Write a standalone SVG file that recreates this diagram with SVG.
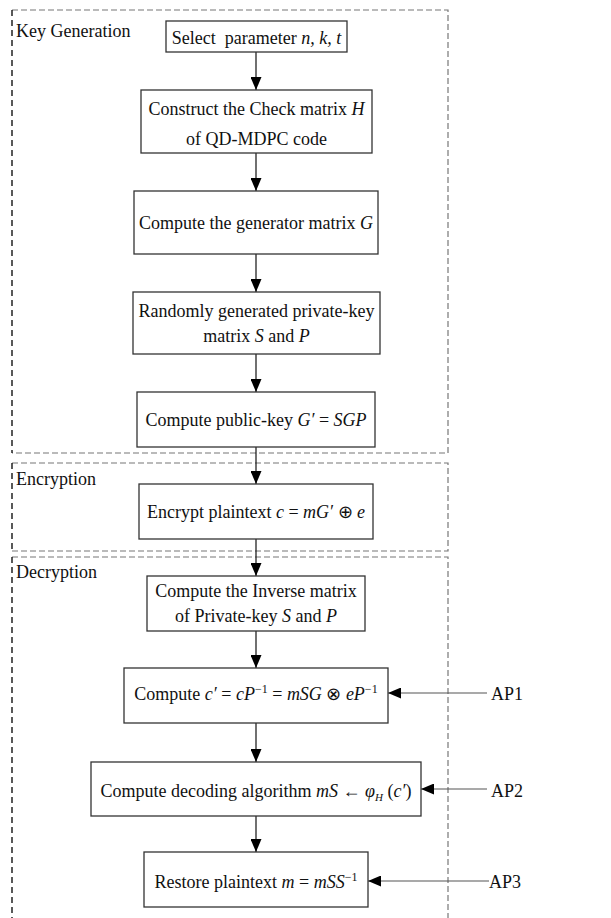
<svg xmlns="http://www.w3.org/2000/svg" width="611" height="918" viewBox="0 0 611 918">
<style>
text{font-family:"Liberation Serif","Times New Roman",serif;font-size:18px;fill:#111}
.c{text-anchor:middle}
.i{font-style:italic}
.box{fill:#fff;stroke:#333;stroke-width:1.3}
.conn{stroke:#111;stroke-width:1.2;fill:none}
.ap{stroke:#555;stroke-width:1.2;fill:none}
.dl{stroke:#000;stroke-width:1.3;stroke-dasharray:6 4;fill:none}
.dg{stroke:#777;stroke-width:1.2;stroke-dasharray:6 3;fill:none}
</style>
<defs>
<marker id="ah" markerWidth="13" markerHeight="11" refX="13" refY="5.5" orient="auto" markerUnits="userSpaceOnUse">
<path d="M0,0 L13,5.5 L0,11 Z" fill="#000"/>
</marker>
</defs>
<g id="regions">
<g id="keygen-region">
<path class="dg" d="M12,10 H448 V453 H12"/>
<path class="dl" d="M12,10 V453"/>
<text x="16" y="37">Key Generation</text>
</g>
<g id="encryption-region">
<path class="dg" d="M12,463 H448 V551 H12"/>
<path class="dl" d="M12,463 V551"/>
<text x="16" y="485">Encryption</text>
</g>
<g id="decryption-region">
<path class="dg" d="M12,557 H448 V930"/>
<path class="dl" d="M12,557 V930"/>
<text x="16" y="578">Decryption</text>
</g>
</g>
<g id="connectors">
<line class="conn" x1="256" y1="52" x2="256" y2="90" marker-end="url(#ah)"/>
<line class="conn" x1="256" y1="153" x2="256" y2="191" marker-end="url(#ah)"/>
<line class="conn" x1="256" y1="254" x2="256" y2="292" marker-end="url(#ah)"/>
<line class="conn" x1="256" y1="354" x2="256" y2="392" marker-end="url(#ah)"/>
<line class="conn" x1="256" y1="447" x2="256" y2="484" marker-end="url(#ah)"/>
<line class="conn" x1="256" y1="539" x2="256" y2="576" marker-end="url(#ah)"/>
<line class="conn" x1="256" y1="631" x2="256" y2="668" marker-end="url(#ah)"/>
<line class="conn" x1="256" y1="723" x2="256" y2="762" marker-end="url(#ah)"/>
<line class="conn" x1="256" y1="816" x2="256" y2="852" marker-end="url(#ah)"/>
<line class="ap" x1="487" y1="693" x2="388" y2="693" marker-end="url(#ah)"/>
<line class="ap" x1="487" y1="789" x2="421" y2="789" marker-end="url(#ah)"/>
<line class="ap" x1="489" y1="881" x2="368" y2="881" marker-end="url(#ah)"/>
</g>
<g id="n1">
<rect class="box" x="166" y="21" width="181" height="31"/>
<text class="c" x="256.5" y="44">Select&#160; parameter <tspan class="i">n, k, t</tspan></text>
</g>
<g id="n2">
<rect class="box" x="141" y="90" width="231" height="63"/>
<text class="c" x="256.5" y="115">Construct the Check matrix <tspan class="i">H</tspan></text>
<text class="c" x="256.5" y="145">of QD-MDPC code</text>
</g>
<g id="n3">
<rect class="box" x="134" y="191" width="244" height="63"/>
<text class="c" x="256" y="229">Compute the generator matrix <tspan class="i">G</tspan></text>
</g>
<g id="n4">
<rect class="box" x="133" y="292" width="247" height="62"/>
<text class="c" x="256.5" y="317">Randomly generated private-key</text>
<text class="c" x="256.5" y="342">matrix <tspan class="i">S</tspan> and <tspan class="i">P</tspan></text>
</g>
<g id="n5">
<rect class="box" x="137" y="392" width="238" height="55"/>
<text class="c" x="256" y="426">Compute public-key <tspan class="i">G′</tspan> = <tspan class="i">SGP</tspan></text>
</g>
<g id="n6">
<rect class="box" x="139" y="484" width="234" height="55"/>
<text class="c" x="256" y="518">Encrypt plaintext <tspan class="i">c</tspan> = <tspan class="i">mG′</tspan> ⊕ <tspan class="i">e</tspan></text>
</g>
<g id="n7">
<rect class="box" x="147" y="576" width="218" height="55"/>
<text class="c" x="256" y="597">Compute the Inverse matrix</text>
<text class="c" x="256" y="622">of Private-key <tspan class="i">S</tspan> and <tspan class="i">P</tspan></text>
</g>
<g id="n8">
<rect class="box" x="124" y="668" width="264" height="55"/>
<text class="c" x="256" y="700">Compute <tspan class="i">c′</tspan> = <tspan class="i">cP</tspan><tspan dy="-7" font-size="12">−1</tspan><tspan dy="7"> = </tspan><tspan class="i">mSG</tspan> ⊗ <tspan class="i">eP</tspan><tspan dy="-7" font-size="12">−1</tspan></text>
</g>
<g id="n9">
<rect class="box" x="91" y="762" width="330" height="54"/>
<text class="c" x="256" y="797">Compute decoding algorithm <tspan class="i">mS</tspan> ← <tspan class="i">φ</tspan><tspan class="i" dy="4" font-size="11">H</tspan><tspan dy="-4"> (</tspan><tspan class="i">c′</tspan>)</text>
</g>
<g id="n10">
<rect class="box" x="144" y="852" width="224" height="55"/>
<text class="c" x="256" y="888">Restore plaintext <tspan class="i">m</tspan> = <tspan class="i">mSS</tspan><tspan dy="-7" font-size="12">−1</tspan></text>
</g>
<g id="ap-labels">
<text x="491" y="700">AP1</text>
<text x="491" y="797">AP2</text>
<text x="489" y="888">AP3</text>
</g>
</svg>
